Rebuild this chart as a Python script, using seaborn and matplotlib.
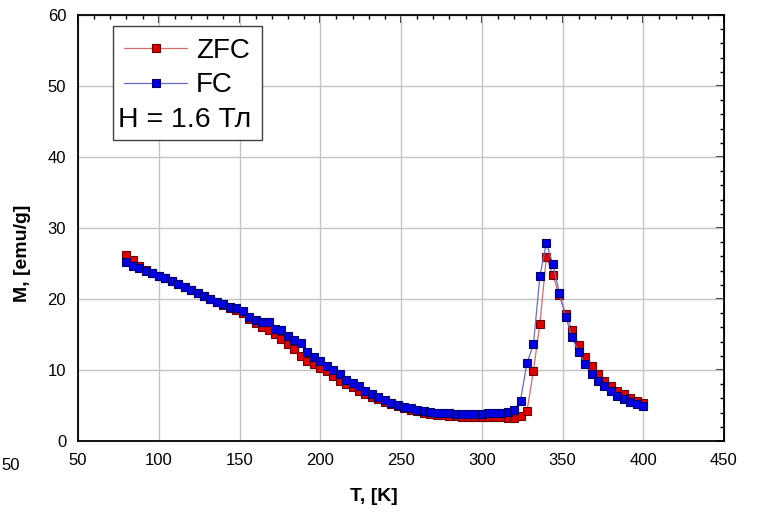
import matplotlib
matplotlib.use("Agg")
import matplotlib.pyplot as plt
import numpy as np
import pandas as pd
import seaborn as sns
from matplotlib.patches import Rectangle
from matplotlib.ticker import MultipleLocator

T = [80, 84, 88, 92, 96, 100, 104, 108, 112, 116, 120, 124, 128, 132, 136, 140,
     144, 148, 152, 156, 160, 164, 168, 172, 176, 180, 184, 188, 192, 196, 200,
     204, 208, 212, 216, 220, 224, 228, 232, 236, 240, 244, 248, 252, 256, 260,
     264, 268, 272, 276, 280, 284, 288, 292, 296, 300, 304, 308, 312, 316, 320,
     324, 328, 332, 336, 340, 344, 348, 352, 356, 360, 364, 368, 372, 376, 380,
     384, 388, 392, 396, 400]

M_zfc = [26.2, 25.5, 24.6, 24.1, 23.6, 23.3, 22.9, 22.5, 22.1, 21.7, 21.2, 20.8,
         20.4, 20.0, 19.6, 19.2, 18.8, 18.5, 18.0, 17.2, 16.6, 16.1, 15.7, 15.1,
         14.4, 13.7, 13.0, 12.0, 11.3, 10.8, 10.3, 9.8, 9.1, 8.5, 8.0, 7.6, 7.1,
         6.6, 6.2, 5.9, 5.5, 5.2, 4.9, 4.6, 4.4, 4.2, 4.0, 3.8, 3.7, 3.6, 3.5,
         3.5, 3.4, 3.4, 3.4, 3.4, 3.4, 3.4, 3.4, 3.3, 3.3, 3.5, 4.2, 9.9, 16.5,
         25.9, 23.4, 20.5, 17.9, 15.6, 13.5, 11.9, 10.5, 9.4, 8.5, 7.8, 7.1, 6.6,
         6.1, 5.6, 5.3]

M_fc = [25.2, 24.7, 24.3, 24.0, 23.6, 23.3, 22.9, 22.5, 22.1, 21.7, 21.2, 20.8,
        20.4, 20.0, 19.6, 19.3, 18.9, 18.7, 18.3, 17.4, 17.0, 16.7, 16.7, 15.8,
        15.7, 14.8, 14.2, 13.8, 12.5, 11.8, 11.2, 10.6, 10.0, 9.5, 8.6, 8.2, 7.7,
        7.1, 6.6, 6.2, 5.8, 5.4, 5.1, 4.8, 4.6, 4.4, 4.2, 4.1, 4.0, 3.9, 3.9,
        3.8, 3.8, 3.8, 3.8, 3.8, 3.9, 3.9, 4.0, 4.1, 4.3, 5.7, 11.0, 13.6, 23.2,
        27.9, 24.9, 20.9, 17.5, 14.6, 12.5, 10.8, 9.4, 8.5, 7.8, 7.1, 6.4, 5.9,
        5.5, 5.2, 5.0]

series_labels = ["ZFC", "FC"]
annotation = "H = 1.6 Тл"
x_label = "T, [K]"
y_label = "M, [emu/g]"

sns.set_style("white")
plt.rcParams["font.family"] = ["Liberation Sans", "DejaVu Sans"]
plt.rcParams["text.color"] = "black"
plt.rcParams["axes.labelcolor"] = "black"
plt.rcParams["xtick.color"] = "black"
plt.rcParams["ytick.color"] = "black"

fig = plt.figure(figsize=(7.59, 5.15), dpi=100)
ax = fig.add_axes([78 / 759, 1 - 441 / 515, (724 - 78) / 759, (441 - 15) / 515])

df_zfc = pd.DataFrame({"T": T, "M": M_zfc})
df_fc = pd.DataFrame({"T": T, "M": M_fc})

sns.lineplot(data=df_zfc, x="T", y="M", ax=ax, sort=False, color="#d86a6a",
             linewidth=0.9, marker="s", markersize=5.5, markerfacecolor="#e00000",
             markeredgecolor="#6a0000", markeredgewidth=0.8, label=series_labels[0],
             legend=False, zorder=3)
sns.lineplot(data=df_fc, x="T", y="M", ax=ax, sort=False, color="#6a6ad0",
             linewidth=0.9, marker="s", markersize=5.5, markerfacecolor="#0000e6",
             markeredgecolor="#00006a", markeredgewidth=0.8, label=series_labels[1],
             legend=False, zorder=4)

ax.set_xlim(50, 450)
ax.set_ylim(0, 60)
ax.xaxis.set_major_locator(MultipleLocator(50))
ax.xaxis.set_minor_locator(MultipleLocator(10))
ax.yaxis.set_major_locator(MultipleLocator(10))
ax.yaxis.set_minor_locator(MultipleLocator(2))
ax.grid(True, which="major", color="#c4c4c4", linewidth=1.0)
ax.set_axisbelow(True)

for s in ax.spines.values():
    s.set_color("black")
    s.set_linewidth(1.3)
    s.set_visible(True)

ax.tick_params(which="major", direction="out", length=6.5, width=1.2,
               labelsize=12, colors="black", pad=2)
ax.tick_params(which="minor", direction="out", length=3, width=1.0)

secx = ax.secondary_xaxis("top")
secx.xaxis.set_major_locator(MultipleLocator(50))
secx.xaxis.set_minor_locator(MultipleLocator(10))
secx.tick_params(which="major", direction="in", length=6, width=1.2, labeltop=False)
secx.tick_params(which="minor", direction="in", length=3, width=1.0)
secy = ax.secondary_yaxis("right")
secy.yaxis.set_major_locator(MultipleLocator(10))
secy.yaxis.set_minor_locator(MultipleLocator(2))
secy.tick_params(which="major", direction="in", length=6, width=1.2, labelright=False)
secy.tick_params(which="minor", direction="in", length=3, width=1.0)

ax.set_xlabel(x_label, fontsize=14, fontweight="bold")
ax.set_ylabel(y_label, fontsize=14, fontweight="bold")
ax.xaxis.set_label_coords(0.458, -0.11)
ax.yaxis.set_label_coords(-0.072, 0.44)

# legend frame
frame = Rectangle((0.054, 0.707), 0.231, 0.267, transform=ax.transAxes,
                  facecolor="white", edgecolor="#404040", linewidth=1.0, zorder=5)
ax.add_patch(frame)
leg = ax.legend(handles=ax.lines[:2], labels=series_labels, loc="upper left",
                bbox_to_anchor=(0.062, 0.960), frameon=False, fontsize=20,
                handlelength=2.3, handletextpad=0.3, labelspacing=0.32,
                borderpad=0.2, borderaxespad=0)
leg.set_zorder(6)
ax.text(0.062, 0.723, annotation, transform=ax.transAxes, fontsize=20.5,
        ha="left", va="bottom", zorder=7)

# label visible at the left edge of the image
fig.text(1 / 759, 1 - 465 / 515, "50", fontsize=12, ha="left", va="center")

fig.savefig("out.png", dpi=100)
